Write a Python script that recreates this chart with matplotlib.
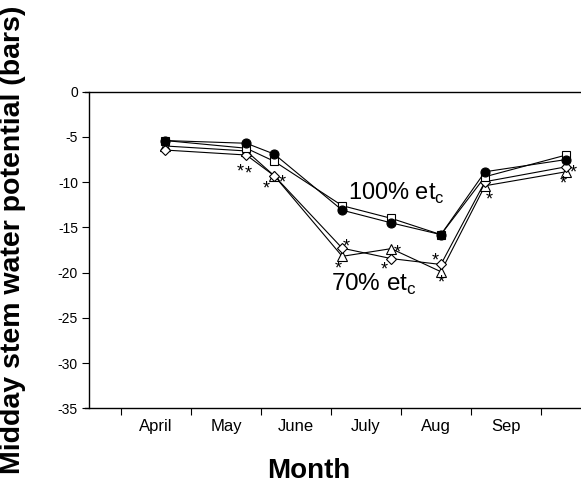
import matplotlib
matplotlib.use("Agg")
import matplotlib.pyplot as plt
from matplotlib.ticker import FixedLocator, NullFormatter

plt.rcParams['font.family'] = ['Liberation Sans', 'DejaVu Sans']

# sampling dates, in months from 1 April
sample_month = [0.63, 1.79, 2.19, 3.16, 3.86, 4.57, 5.20, 6.36]

# midday stem water potential (bars)
full_circle = [-5.4, -5.7, -6.9, -13.1, -14.5, -15.8, -8.85, -7.5]
full_square = [-5.4, -6.25, -7.7, -12.6, -14.0, -15.8, -9.4, -7.0]
deficit_diamond = [-6.45, -7.0, -9.3, -17.3, -18.45, -19.1, -9.95, -8.3]
deficit_triangle = [-6.0, -6.55, -9.3, -18.2, -17.35, -19.9, -10.4, -8.85]

month_labels = ['April', 'May', 'June', 'July', 'Aug', 'Sep']
y_ticks = [0, -5, -10, -15, -20, -25, -30, -35]

# significance asterisks (month, bars)
star_x = [1.71, 1.82, 2.07, 2.30, 3.22, 3.10, 3.94, 3.76, 4.49, 4.58, 5.26, 6.46, 6.32]
star_y = [-8.37, -8.59, -10.25, -9.59, -16.72, -19.19, -17.34, -19.30,
          -18.27, -20.66, -11.55, -8.48, -9.78]

W, H = 581, 484
fig = plt.figure(figsize=(W / 100, H / 100), dpi=100)
ax = fig.add_axes([85 / W, 1 - 408.3 / H, 1 - 85 / W, (408.3 - 91.7) / H])

line_kw = dict(color='black', lw=0.8, mec='black', mew=0.8, zorder=3)
ax.plot(sample_month, deficit_triangle, marker='^', mfc='white', ms=6.5, **line_kw)
ax.plot(sample_month, deficit_diamond, marker='D', mfc='white', ms=5.5, **line_kw)
ax.plot(sample_month, full_square, marker='s', mfc='white', ms=6, **line_kw)
ax.plot(sample_month, full_circle, marker='o', mfc='black', ms=6.5, **line_kw)

# the asterisk glyph sits high in its box, so nudge it down onto the point
for sx, sy in zip(star_x, star_y):
    ax.annotate('*', (sx, sy), xytext=(0, -3), textcoords='offset points',
                ha='center', va='center', fontsize=13, color='black')

ax.text(3.25, -11.2, r'100% et$_\mathregular{c}$', fontsize=17, ha='left', va='center')
ax.text(3.0, -21.3, r'70% et$_\mathregular{c}$', fontsize=17.5, ha='left', va='center')

ax.set_xlim((85 - 121) / 70, (581 - 121) / 70)
ax.set_ylim(-35, 0)

ax.spines['right'].set_visible(False)
ax.spines['left'].set_position(('data', (89 - 121) / 70))
for s in ['top', 'bottom', 'left']:
    ax.spines[s].set_linewidth(1.0)

ax.set_yticks(y_ticks)
ax.set_yticklabels([str(t) for t in y_ticks], fontsize=10)
ax.tick_params(axis='y', direction='out', length=5, width=0.8, pad=3)

ax.xaxis.set_major_locator(FixedLocator(range(0, 7)))
ax.xaxis.set_major_formatter(NullFormatter())
ax.set_xticks([i + 0.5 for i in range(len(month_labels))], minor=True)
ax.set_xticklabels(month_labels, minor=True, fontsize=12)
ax.tick_params(axis='x', which='major', direction='out', length=5, width=0.8)
ax.tick_params(axis='x', which='minor', length=0, pad=8)

fig.text(309 / W, 1 - 471 / H, 'Month', fontsize=20, fontweight='bold',
         ha='center', va='center')
fig.text(13 / W, 1 - 240 / H, 'Midday stem water potential (bars)', fontsize=20.5,
         fontweight='bold', rotation=90, ha='center', va='center')

fig.savefig('out.png', dpi=100)
